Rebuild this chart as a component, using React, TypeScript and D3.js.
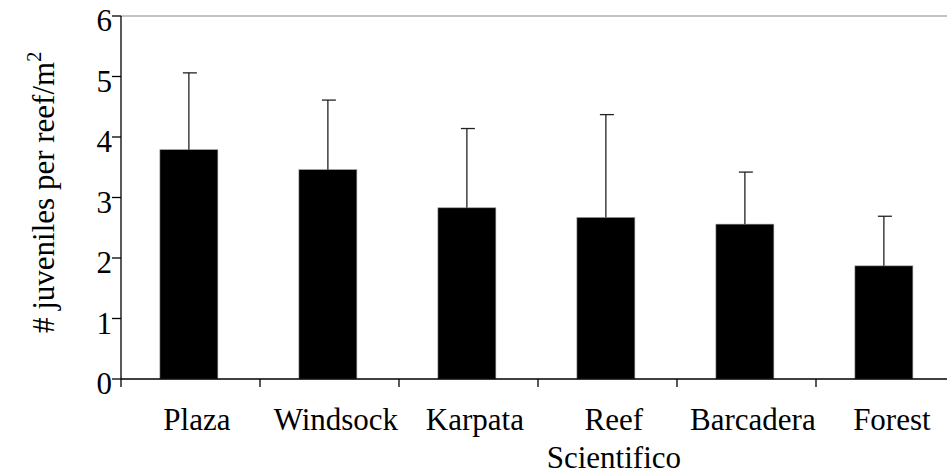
import React from "react";
import * as d3 from "d3";

const categories = ["Plaza", "Windsock", "Karpata", "Reef Scientifico", "Barcadera", "Forest"];
const categoryLines = [["Plaza"], ["Windsock"], ["Karpata"], ["Reef", "Scientifico"], ["Barcadera"], ["Forest"]];
const means = [3.79, 3.46, 2.83, 2.67, 2.56, 1.87];
const errorTops = [5.06, 4.61, 4.14, 4.37, 3.42, 2.69];
const yTicks = [0, 1, 2, 3, 4, 5, 6];

const W = 947;
const H = 476;
const left = 121;
const right = 955;
const top = 16;
const bottom = 379;
const FONT = "Liberation Serif";
const FS = 31;
const LABEL_SHIFT = 8;

export default function App() {
  const x = d3
    .scaleBand<string>()
    .domain(categories)
    .range([left, right])
    .paddingInner(0.583)
    .paddingOuter(0.2915)
    .align(0.48);
  const y = d3.scaleLinear().domain([0, 6]).range([bottom, top]);
  const step = x.step();
  const boundaries = d3.range(categories.length + 1).map((i) => left + i * step);
  const ts: React.CSSProperties = { fontFamily: `"${FONT}"` };

  return (
    <svg width={W} height={H} style={{ position: "absolute", left: 0, top: 0, background: "#fff" }}>
      <style>{`text, tspan { font-family: "Liberation Serif", "Times New Roman", Tinos, serif !important; }`}</style>
      <rect x={0} y={0} width={W} height={H} fill="#fff" />
      {/* top border */}
      <line x1={left} x2={W} y1={y(6)} y2={y(6)} stroke="#888" strokeWidth={1.2} />
      {/* bars */}
      {categories.map((c, i) => (
        <rect key={c} x={x(c)!} y={y(means[i])} width={x.bandwidth()} height={y(0) - y(means[i])} fill="#000" stroke="#999" strokeWidth={0.6} />
      ))}
      {/* error bars */}
      {categories.map((c, i) => {
        const cx = x(c)! + x.bandwidth() / 2;
        return (
          <g key={"e" + c} stroke="#222" strokeWidth={1.3}>
            <line x1={cx} x2={cx} y1={y(means[i])} y2={y(errorTops[i])} />
            <line x1={cx - 6} x2={cx + 8} y1={y(errorTops[i])} y2={y(errorTops[i])} />
          </g>
        );
      })}
      {/* y axis */}
      <line x1={left} x2={left} y1={top} y2={bottom} stroke="#000" strokeWidth={1.3} />
      {yTicks.map((t) => (
        <line key={"t" + t} x1={left - 9} x2={left} y1={y(t)} y2={y(t)} stroke="#000" strokeWidth={1.3} />
      ))}
      {yTicks.map((t) => (
        <text key={"y" + t} x={left - 9} y={y(t) + 15} textAnchor="end" fontSize={FS} fontFamily={FONT} style={ts}>
          {t}
        </text>
      ))}
      {/* x axis */}
      <line x1={left} x2={W} y1={bottom} y2={bottom} stroke="#000" strokeWidth={1.3} />
      {boundaries.map((b, i) => (
        <line key={i} x1={b} x2={b} y1={bottom} y2={bottom + 8} stroke="#000" strokeWidth={1.3} />
      ))}
      {categories.map((c, i) => {
        const lx = x(c)! + x.bandwidth() / 2 + LABEL_SHIFT;
        return (
          <text key={"l" + c} x={lx} y={430} textAnchor="middle" fontSize={FS} fontFamily={FONT} style={ts}>
            {categoryLines[i].map((ln, j) => (
              <tspan key={j} x={lx} dy={j === 0 ? 0 : 38}>
                {ln}
              </tspan>
            ))}
          </text>
        );
      })}
      {/* y axis title */}
      <text transform="translate(54, 333) rotate(-90)" fontSize={FS} fontFamily={FONT} style={ts}>
        # juveniles per reef/m
        <tspan fontSize={20} dy={-13}>2</tspan>
      </text>
    </svg>
  );
}
